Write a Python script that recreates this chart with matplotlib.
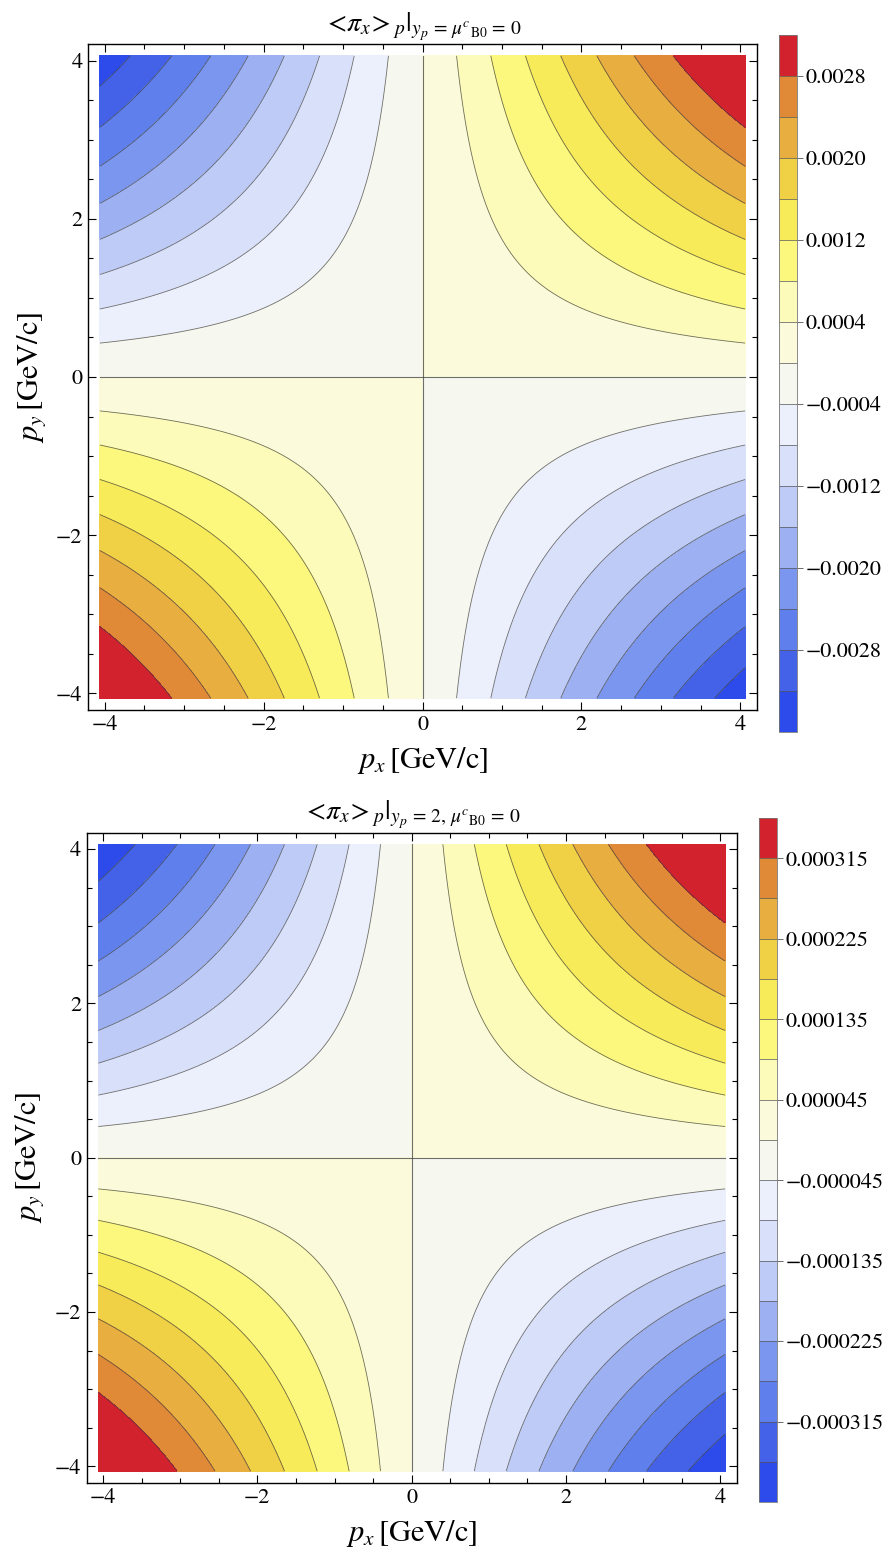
import numpy as np
import matplotlib
matplotlib.use("Agg")
import matplotlib.pyplot as plt
from matplotlib.ticker import MultipleLocator, FixedLocator

plt.rcParams['font.family'] = ['STIXGeneral', 'DejaVu Serif']
plt.rcParams['mathtext.fontset'] = 'stix'
plt.rcParams['axes.unicode_minus'] = True
plt.rcParams['contour.negative_linestyle'] = 'solid'

# ---------------- data ----------------
# contour levels (band boundaries) of each panel
levels_top = [-0.0032, -0.0028, -0.0024, -0.0020, -0.0016, -0.0012, -0.0008, -0.0004,
              0.0, 0.0004, 0.0008, 0.0012, 0.0016, 0.0020, 0.0024, 0.0028]
levels_bot = [-0.00036, -0.000315, -0.00027, -0.000225, -0.00018, -0.000135, -0.00009, -0.000045,
              0.0, 0.000045, 0.00009, 0.000135, 0.00018, 0.000225, 0.00027, 0.000315]

# colorbar tick values / labels
cb_ticks_top = [-0.0028, -0.0020, -0.0012, -0.0004, 0.0004, 0.0012, 0.0020, 0.0028]
cb_labels_top = ["\u22120.0028", "\u22120.0020", "\u22120.0012", "\u22120.0004",
                 "0.0004", "0.0012", "0.0020", "0.0028"]
cb_ticks_bot = [-0.000315, -0.000225, -0.000135, -0.000045, 0.000045, 0.000135, 0.000225, 0.000315]
cb_labels_bot = ["\u22120.000315", "\u22120.000225", "\u22120.000135", "\u22120.000045",
                 "0.000045", "0.000135", "0.000225", "0.000315"]

# band colours, lowest band first (17 bands)
band_colors = ["#2c4bea", "#4462e8", "#5e7fec", "#7b96ee", "#9db0f2", "#bdcbf6",
               "#d8e0fa", "#ecf0fc", "#f6f7ef", "#fbfbdc", "#fcfbb9", "#fcf87e",
               "#f8eb5a", "#f0d146", "#e8ae40", "#e08a38", "#d2222e"]

# field shape:  f = a*(px*py) - b*(px*py)^3
coef_top = (2.30e-4, 7.0e-8)
coef_bot = (2.747e-5, 1.279e-8)

p_range = 4.06       # extent of filled region
ax_lim = 4.21        # frame extent
x_ticks = [-4, -2, 0, 2, 4]
titles = [r"$<\!\pi_x\!>_p|_{y_p\,=\,\mu^c{}_{\rm B0}\,=\,0}$",
          r"$<\!\pi_x\!>_p|_{y_p\,=\,2,\,\mu^c{}_{\rm B0}\,=\,0}$"]

# ---------------- figure ----------------
fig = plt.figure(figsize=(8.95, 15.55), dpi=100)

ax_rects = [[88/895, 1-710/1555, 669/895, 666/1555],
            [86.7/895, 1-1482.7/1555, 650/895, 650/1555]]
cax_rects = [[779/895, 1-732/1555, 18/895, 697/1555],
             [759/895, 1-1502/1555, 18/895, 684/1555]]

g = np.linspace(-p_range, p_range, 401)
PX, PY = np.meshgrid(g, g)
U = PX * PY

panels = [(levels_top, cb_ticks_top, cb_labels_top, coef_top),
          (levels_bot, cb_ticks_bot, cb_labels_bot, coef_bot)]

line_col = (0.25, 0.25, 0.25, 0.75)

for k, (levels, cbt, cbl, coef) in enumerate(panels):
    ax = fig.add_axes(ax_rects[k])
    cax = fig.add_axes(cax_rects[k])
    Z = coef[0] * U - coef[1] * U**3
    step = levels[1] - levels[0]
    full_levels = [min(Z.min(), levels[0]) - step] + levels + [max(Z.max(), levels[-1]) + step]
    cf = ax.contourf(PX, PY, Z, levels=full_levels, colors=band_colors)
    line_levels = [l for l in levels if abs(l) > 1e-12]
    ax.contour(PX, PY, Z, levels=line_levels, colors=[line_col], linewidths=0.6,
               linestyles='solid')
    ax.plot([0, 0], [-p_range, p_range], color=line_col, lw=0.8)
    ax.plot([-p_range, p_range], [0, 0], color=line_col, lw=0.8)

    ax.set_xlim(-ax_lim, ax_lim)
    ax.set_ylim(-ax_lim, ax_lim)
    ax.xaxis.set_major_locator(FixedLocator(x_ticks))
    ax.yaxis.set_major_locator(FixedLocator(x_ticks))
    ax.xaxis.set_minor_locator(MultipleLocator(0.5))
    ax.yaxis.set_minor_locator(MultipleLocator(0.5))
    ax.tick_params(which='both', direction='in', top=True, right=True, width=0.8)
    ax.tick_params(which='major', length=6, labelsize=16, pad=4)
    ax.tick_params(which='minor', length=3.5)
    for s in ax.spines.values():
        s.set_linewidth(1.0)
    ax.set_xlabel(r"$p_x\,$[GeV/c]", fontsize=22, labelpad=7)
    ax.set_ylabel(r"$p_y\,$[GeV/c]", fontsize=22, labelpad=6)
    ax.set_title(titles[k], fontsize=20, pad=9)

    cb = fig.colorbar(cf, cax=cax, drawedges=True)
    cb.outline.set_edgecolor('#777777')
    cb.outline.set_linewidth(0.6)
    cb.dividers.set_color('#555555')
    cb.dividers.set_linewidth(0.5)
    cb.set_ticks(cbt)
    cb.set_ticklabels(cbl)
    cax.tick_params(length=4, width=0.6, color='#555555', labelsize=16, pad=2)
    cax.minorticks_off()

fig.savefig("out.png", dpi=100)
